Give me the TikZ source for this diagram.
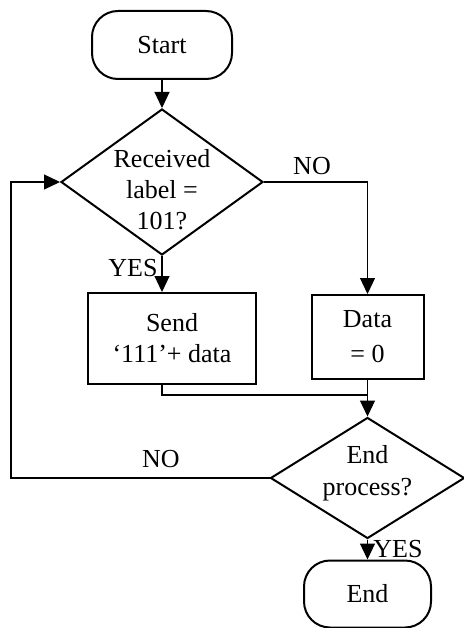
\documentclass[tikz,border=0pt]{standalone}
\usepackage{fontspec}
\setmainfont{Liberation Serif}
\usetikzlibrary{shapes.geometric,arrows.meta}
\begin{document}
\begin{tikzpicture}[x=1pt,y=-1pt,
  every node/.style={font=\fontsize{26}{31}\selectfont},
  terminal/.style={draw,line width=2pt,rounded corners=26pt,align=center,inner sep=0pt},
  process/.style={draw,line width=2pt,align=center,inner sep=0pt},
  decision/.style={draw,line width=2pt,diamond,inner sep=0pt,aspect=1},
  flow/.style={line width=1.2pt,-{Triangle[length=16pt,width=15pt]}},
  link/.style={line width=1.2pt},
  tag/.style={inner sep=0pt}
]
\useasboundingbox (0,0) rectangle (463,628);

% blocks
\node[terminal,minimum width=140pt,minimum height=68pt] (start) at (162,45) {Start};
\node[decision,minimum width=202pt,minimum height=146pt,
  label={[align=center,yshift=-8pt,inner sep=0pt]center:Received\\label =\\101?}] (d1) at (162,182) {};
\node[process,minimum width=168pt,minimum height=91pt] (send) at (172,338.5) {Send\\‘111’+ data};
\node[process,minimum width=112pt,minimum height=84pt,
  font=\fontsize{26}{35}\selectfont] (data) at (367.5,337) {Data\\= 0};
\node[decision,minimum width=194pt,minimum height=121pt,
  label={[align=center,yshift=5pt,inner sep=0pt,font=\fontsize{26}{32}\selectfont]center:End\\process?}] (d2) at (367.5,478) {};
\node[terminal,minimum width=127pt,minimum height=67pt] (stop) at (367.5,594) {End};

% branch labels
\node[tag] (no1) at (312,166) {NO};
\node[tag] (yes1) at (133,268) {YES};
\node[tag] (no2) at (161,459) {NO};
\node[tag] (yes2) at (398,549) {YES};

% helper points for the merge and the loop back
\coordinate (mrg) at (367.5,395);
\coordinate (lp) at (11,0);

% connectors
\draw[flow] (start) -- (d1.north);
\draw[flow] (d1.south) -- (d1.south |- send.north);
\draw[flow] (d1.east) -| (data.north);
\draw[link] (send.south -| d1.south) |- (mrg);
\draw[flow] (data.south) -- (d2.north);
\draw[flow] (d2.south) -- (stop.north);
\draw[flow] (d2.west) -- (d2.west -| lp) |- (d1.west);
\end{tikzpicture}
\end{document}
